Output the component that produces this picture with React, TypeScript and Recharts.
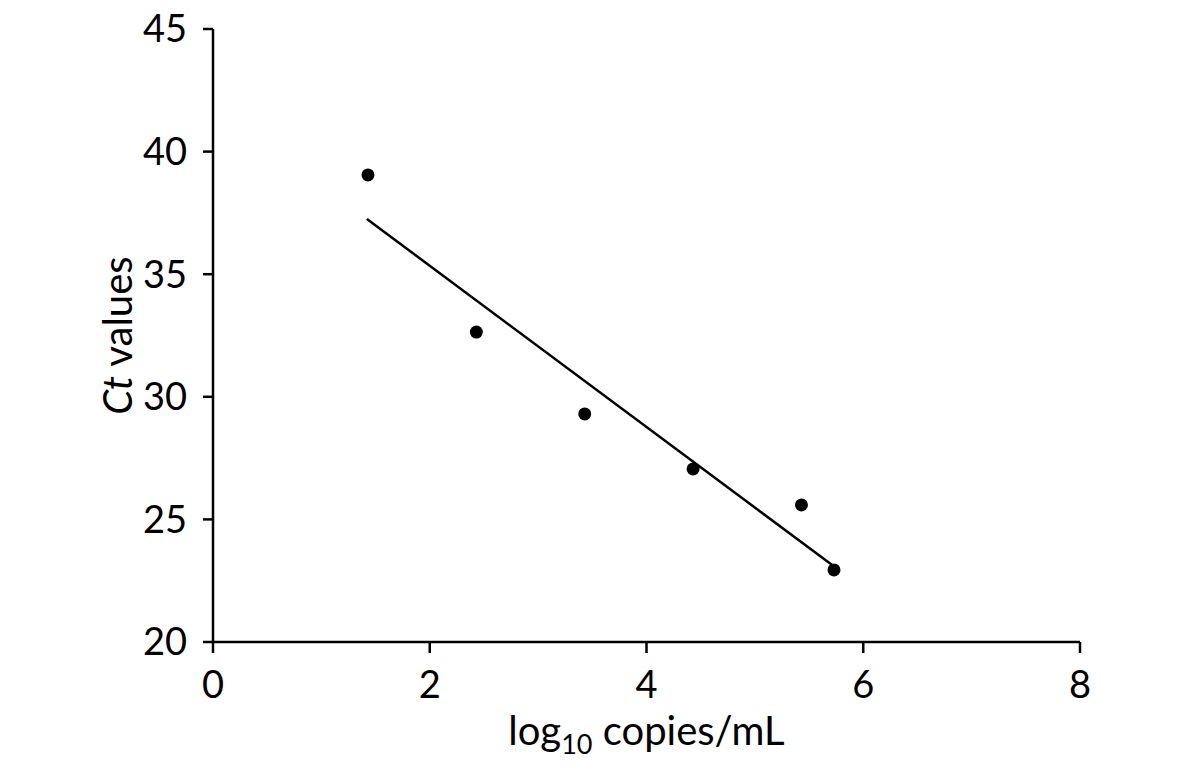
import React from "react";
import { ScatterChart, Scatter, XAxis, YAxis } from "recharts";

const logCopies = [1.43, 2.43, 3.43, 4.43, 5.43, 5.73];
const ctValues = [39.05, 32.64, 29.3, 27.06, 25.59, 22.94];
const trendX = [1.42, 5.71];
const trendY = [37.25, 23.15];
const xTicks = [0, 2, 4, 6, 8];
const yTicks = [20, 25, 30, 35, 40, 45];

const points = logCopies.map((x, i) => ({ x, y: ctValues[i] }));
const trend = trendX.map((x, i) => ({ x, y: trendY[i] }));

const FONT = "Lato, 'Open Sans', sans-serif";
const FS = 38;
const LFS = 40;

const XLabel = (props: any) => {
  const vb = props.viewBox || {};
  const cx = vb.x + vb.width / 2;
  return (
    <text x={cx} y={745} textAnchor="middle" fontFamily={FONT} fontSize={LFS} fill="#000">
      <tspan>log</tspan>
      <tspan fontSize={27} dy={9}>10</tspan>
      <tspan dy={-9}> copies/mL</tspan>
    </text>
  );
};

const YLabel = (props: any) => {
  const vb = props.viewBox || {};
  const cy = vb.y + vb.height / 2;
  const x = 132;
  return (
    <text
      x={x}
      y={cy}
      textAnchor="middle"
      fontFamily={FONT}
      fontSize={LFS}
      fill="#000"
      transform={`rotate(-90, ${x}, ${cy})`}
    >
      <tspan fontStyle="italic">Ct</tspan>
      <tspan> values</tspan>
    </text>
  );
};

const Dot = (props: any) => <circle cx={props.cx} cy={props.cy} r={6.5} fill="#000" />;
const NoDot = () => null;

export default function App() {
  return (
    <div style={{ width: 1181, height: 772, margin: -8, background: "#fff" }}>
      <ScatterChart
        width={1181}
        height={772}
        margin={{ top: 29, right: 101, bottom: 30, left: 93 }}
      >
        <XAxis
          type="number"
          dataKey="x"
          domain={[0, 8]}
          ticks={xTicks}
          interval={0}
          stroke="#000"
          strokeWidth={2.5}
          tickSize={11}
          tickMargin={18}
          height={100}
          tick={{ fill: "#000", fontSize: FS, fontFamily: FONT }}
          label={<XLabel />}
        />
        <YAxis
          type="number"
          dataKey="y"
          domain={[20, 45]}
          ticks={yTicks}
          interval={0}
          stroke="#000"
          strokeWidth={2.5}
          tickSize={10}
          tickMargin={16}
          width={120}
          tick={{ fill: "#000", fontSize: FS, fontFamily: FONT }}
          label={<YLabel />}
        />
        <Scatter data={points} shape={<Dot />} isAnimationActive={false} />
        <Scatter
          data={trend}
          line={{ stroke: "#000", strokeWidth: 2.5 }}
          shape={<NoDot />}
          isAnimationActive={false}
        />
      </ScatterChart>
    </div>
  );
}
